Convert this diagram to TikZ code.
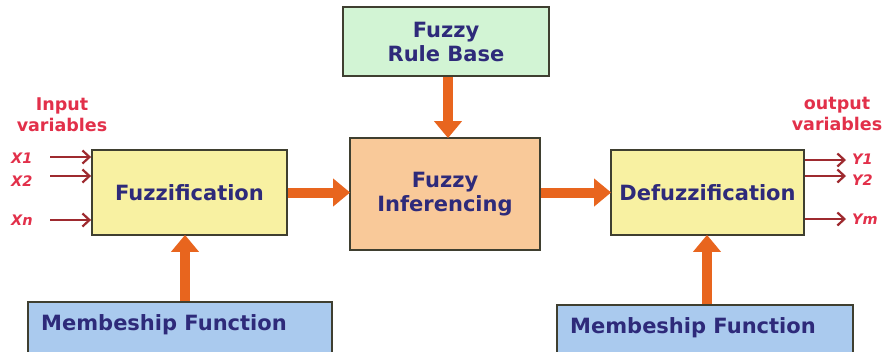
\documentclass[tikz,border=0pt]{standalone}
\usepackage{fontspec}
\setmainfont{DejaVu Sans}
\usetikzlibrary{arrows.meta,calc}
\definecolor{navy}{HTML}{2E2A7A}
\definecolor{lblred}{HTML}{E2304A}
\definecolor{arrred}{HTML}{9E2A2F}
\definecolor{blk}{HTML}{E8651E}
\definecolor{boxline}{HTML}{3F3F30}
\definecolor{fgreen}{HTML}{D2F4D4}
\definecolor{forange}{HTML}{F9C999}
\definecolor{fyellow}{HTML}{F8F1A2}
\definecolor{fblue}{HTML}{AACAEE}
\tikzset{
  blockbox/.style={draw=boxline, line width=1.8pt, minimum width=#1, inner sep=0pt, text=navy,
    font=\fontsize{21}{24}\selectfont\bfseries, align=center},
  redlbl/.style={text=lblred, font=\fontsize{17.5}{21}\selectfont\bfseries, align=center, inner sep=0pt},
  varlbl/.style={text=lblred, font=\fontsize{14.5}{15}\selectfont\bfseries\itshape, inner sep=0pt},
  thinarrow/.style={draw=arrred, line width=2.2pt, -{Straight Barb[length=7pt,width=13pt]}},
  fatarrow/.style={draw=blk, line width=10pt, -{Triangle[width=27pt,length=17pt]}, shorten >=-1pt},
}
\begin{document}
\begin{tikzpicture}[x=1pt,y=-1pt]
\useasboundingbox (0,0) rectangle (882,351);
\clip (0,0) rectangle (882,351);
% boxes
\node[blockbox=206pt, minimum height=69pt, fill=fgreen] (rule) at (446,41.5) {Fuzzy\\Rule Base};
\node[blockbox=190pt, minimum height=112pt, fill=forange] (inf) at (445,194) {Fuzzy\\Inferencing};
\node[blockbox=195pt, minimum height=85pt, fill=fyellow] (fuzz) at (189.5,192.5) {Fuzzification};
\node[blockbox=193pt, minimum height=85pt, fill=fyellow] (defuzz) at (707.5,192.5) {Defuzzification};
\node[blockbox=304pt, minimum height=70pt, fill=fblue] (mem1) at (180,337) {};
\node[blockbox=296pt, minimum height=70pt, fill=fblue] (mem2) at (705,340) {};
\node[text=navy, font=\fontsize{21}{24}\selectfont\bfseries, anchor=west, inner sep=0pt] (mem1t) at (41,325) {Membeship Function};
\node[text=navy, font=\fontsize{21}{24}\selectfont\bfseries, anchor=west, inner sep=0pt] (mem2t) at (570,328) {Membeship Function};
% block arrows
\draw[fatarrow] (rule.south -| 448,0) -- (inf.north -| 448,0);
\draw[fatarrow] (fuzz.east) -- (inf.west |- fuzz.east);
\draw[fatarrow] (inf.east |- defuzz.west) -- (defuzz.west);
\draw[fatarrow] (mem1.north -| 185,0) -- (fuzz.south -| 185,0);
\draw[fatarrow] (mem2.north -| 707,0) -- (defuzz.south -| 707,0);
% input / output labels
\node[redlbl] (inlbl) at (62,115) {Input\\variables};
\node[redlbl] (outlbl) at (837,114) {output\\variables};
\node[varlbl, anchor=west] (x1) at (11,158) {X1};
\node[varlbl, anchor=west] (x2) at (11,181) {X2};
\node[varlbl, anchor=west] (xn) at (11,220) {Xn};
\coordinate (x1s) at (50,157);
\coordinate (x2s) at (50,176);
\coordinate (xns) at (50,220);
\draw[thinarrow] (x1s) -- (fuzz.west |- x1s);
\draw[thinarrow] (x2s) -- (fuzz.west |- x2s);
\draw[thinarrow] (xns) -- (fuzz.west |- xns);
\node[varlbl, anchor=west] (y1) at (852,159) {Y1};
\node[varlbl, anchor=west] (y2) at (852,180) {Y2};
\node[varlbl, anchor=west] (ym) at (852,219) {Ym};
\coordinate (y1e) at (846,160);
\coordinate (y2e) at (846,176);
\coordinate (yme) at (846,219);
\draw[thinarrow] (defuzz.east |- y1e) -- (y1e);
\draw[thinarrow] (defuzz.east |- y2e) -- (y2e);
\draw[thinarrow] (defuzz.east |- yme) -- (yme);
\end{tikzpicture}
\end{document}
